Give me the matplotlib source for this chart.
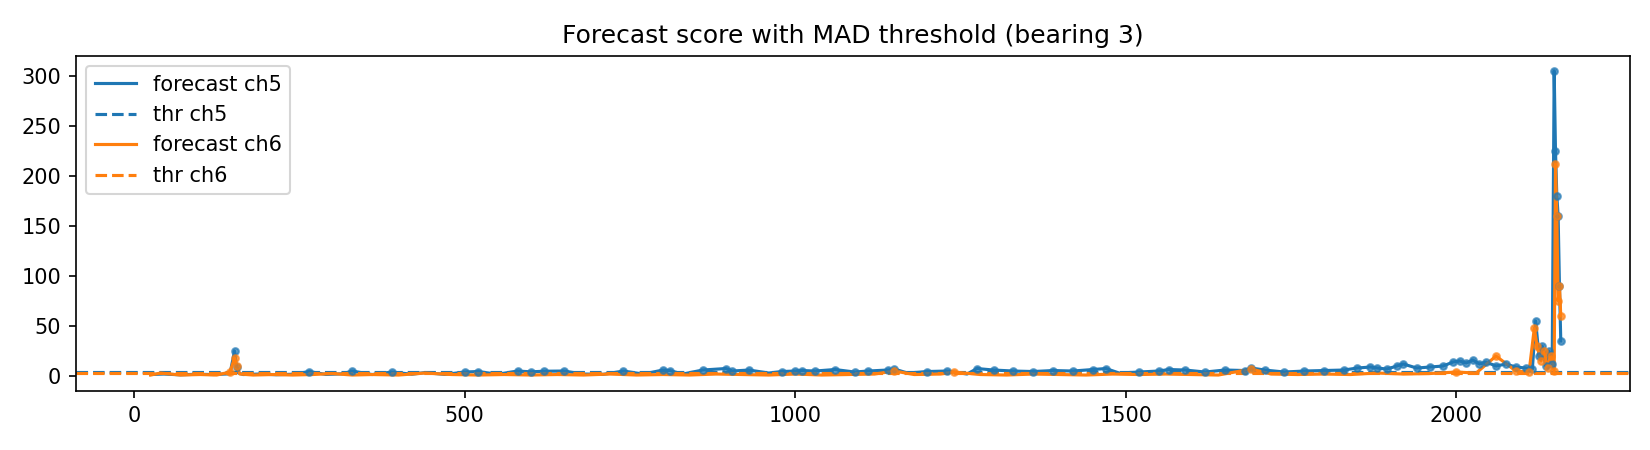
import matplotlib
matplotlib.use("Agg")
import matplotlib.pyplot as plt
import numpy as np

x5 = [25,45,70,95,120,145,152,155,158,165,190,215,240,265,290,315,330,360,390,420,440,470,500,520,550,580,600,620,650,680,710,740,770,800,810,830,860,895,905,930,960,980,1000,1010,1030,1060,1090,1110,1140,1150,1170,1200,1230,1260,1275,1300,1330,1360,1390,1420,1450,1470,1490,1520,1550,1565,1590,1620,1650,1680,1690,1710,1740,1770,1800,1830,1850,1870,1880,1895,1910,1920,1940,1960,1980,1995,2005,2015,2025,2035,2045,2060,2075,2090,2105,2115,2120,2125,2130,2135,2140,2145,2148,2150,2152,2154,2156,2158]
y5 = [1.5,2,1.2,1.8,1.5,2.2,25,9,3,1.5,2,1.3,1.8,4.5,1.6,2.2,5,1.5,4,1.8,3.5,1.6,4,4.5,1.8,5,4.2,4.8,5,2,1.7,5,2,6,5.5,2,6,7.5,5,6,3,4.5,5,5.5,5,6.5,4,5,6,7,3,4.5,5,2,7.5,6,5,4.5,5.5,5,6.5,7.5,3,4,5,6.5,6,4,6,5.5,8,6,4,5,5.5,6,8,9,8,7,10,12,8,9,10,14,15,13,16,12,14,10,12,9,8,7,55,20,30,10,25,12,305,225,180,160,90,35]
x6 = [25,40,70,100,125,145,152,155,160,180,210,240,270,300,330,360,400,440,480,520,560,600,640,680,720,760,800,840,880,920,960,1000,1040,1080,1120,1150,1180,1220,1240,1280,1320,1360,1400,1440,1480,1520,1560,1600,1640,1690,1720,1760,1800,1840,1880,1920,1960,2000,2030,2060,2090,2110,2118,2122,2128,2133,2138,2143,2148,2150,2152,2154,2156,2158]
y6 = [1,3,1,1.5,1,4,18,10,2,1,1.5,1,1.5,2.5,1,1.5,1,3,1.5,1,1.5,1,1.5,1,2,1,1.5,1,2,1.5,1,2,1,1.5,2,5,1.5,2,4,1.5,1,2,1.5,1,2,1.5,2,1.5,1,7,2,1.5,2,1.5,3,2,2.5,4,3,20,5,4,48,30,15,25,8,20,5,212,160,75,90,60]
thr5 = 3.6
thr6 = 3.4

c5, c6 = "#1f77b4", "#ff7f0e"
fig, ax = plt.subplots(figsize=(11, 3), dpi=150)
for x, y, thr, c, n in [(x5, y5, thr5, c5, "ch5"), (x6, y6, thr6, c6, "ch6")]:
    x = np.array(x); y = np.array(y)
    ax.plot(x, y, color=c, lw=1.5, label=f"forecast {n}")
    ax.axhline(thr, color=c, ls="--", lw=1.5, label=f"thr {n}")
    m = y > thr
    ax.scatter(x[m], y[m], color=c, s=10, alpha=0.7, zorder=3)
ax.set_xlim(-88, 2263)
ax.set_ylim(-15, 320)
ax.set_title("Forecast score with MAD threshold (bearing 3)")
ax.legend(loc="upper left")
fig.subplots_adjust(left=0.046, right=0.988, top=0.876, bottom=0.131)
fig.savefig("out.png")
